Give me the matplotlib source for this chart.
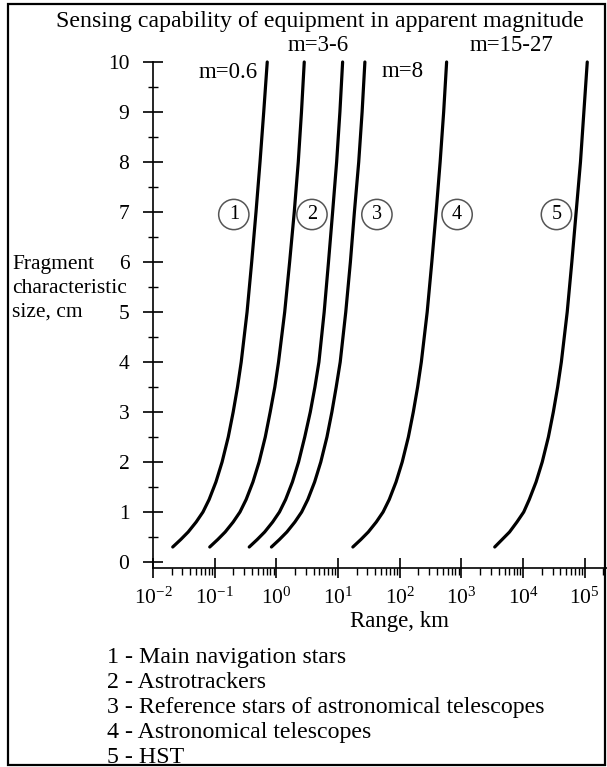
import numpy as np
import matplotlib
matplotlib.use('Agg')
import matplotlib.pyplot as plt
from matplotlib.patches import Rectangle
from matplotlib.ticker import LogLocator, FixedLocator, NullFormatter

plt.rcParams['font.family'] = ['Liberation Serif', 'DejaVu Serif']
plt.rcParams['mathtext.fontset'] = 'custom'
plt.rcParams['mathtext.rm'] = 'Liberation Serif'
plt.rcParams['mathtext.it'] = 'Liberation Serif'

# fragment size, cm (common to all curves)
size_cm = [0.3, 0.45, 0.6, 0.8, 1.0, 1.25, 1.6, 2.0, 2.5, 3.0, 3.5, 4.0,
           5.0, 6.0, 7.0, 8.0, 9.0, 10.0]

# log10 of range in km
log_range_1 = [-1.68, -1.55, -1.43, -1.30, -1.19, -1.09, -0.98, -0.88, -0.78, -0.70,
               -0.63, -0.57, -0.475, -0.40, -0.33, -0.265, -0.205, -0.148]
log_range_2a = [-1.08, -0.95, -0.83, -0.70, -0.59, -0.49, -0.38, -0.28, -0.18, -0.10,
                -0.025, 0.035, 0.135, 0.215, 0.29, 0.355, 0.407, 0.452]
log_range_2b = [-0.44, -0.31, -0.19, -0.06, 0.05, 0.15, 0.26, 0.36, 0.46, 0.55,
                0.625, 0.69, 0.775, 0.845, 0.912, 0.977, 1.03, 1.074]
log_range_3 = [-0.08, 0.05, 0.17, 0.30, 0.41, 0.51, 0.62, 0.72, 0.82, 0.90,
               0.97, 1.035, 1.125, 1.20, 1.265, 1.335, 1.39, 1.435]
log_range_4 = [1.24, 1.37, 1.49, 1.62, 1.73, 1.83, 1.94, 2.04, 2.14, 2.22,
               2.29, 2.35, 2.445, 2.52, 2.59, 2.655, 2.712, 2.76]
log_range_5 = [3.54, 3.66, 3.78, 3.90, 4.01, 4.10, 4.21, 4.31, 4.41, 4.49,
               4.56, 4.62, 4.715, 4.79, 4.86, 4.93, 4.985, 5.04]

curves = [log_range_1, log_range_2a, log_range_2b, log_range_3, log_range_4, log_range_5]

# circled curve numbers (log10 range, size)
circle_labels = ['1', '2', '3', '4', '5']
circle_logx = [-0.69, 0.577, 1.63, 2.93, 4.54]
circle_y = 6.95

# magnitude notes (log10 range, size)
mag_text = ['m=0.6', 'm=3-6', 'm=8', 'm=15-27']
mag_logx = [-0.785, 0.674, 2.051, 3.818]
mag_y = [9.78, 10.32, 9.8, 10.32]

ylabel_lines = ['Fragment', 'characteristic', 'size, cm']

legend_lines = ['1 - Main navigation stars',
                '2 - Astrotrackers',
                '3 - Reference stars of astronomical telescopes',
                '4 - Astronomical telescopes',
                '5 - HST']

W, H = 607, 767
fig = plt.figure(figsize=(W / 100, H / 100), dpi=100)
ax = fig.add_axes([153 / W, 1 - 568 / H, 1 - 153 / W, (568 - 62) / H])

for lx in curves:
    ax.plot(10 ** np.array(lx), size_cm, color='black', lw=2.3, clip_on=False,
            solid_capstyle='round', solid_joinstyle='round', zorder=2)

ax.set_xscale('log')
ax.set_xlim(10 ** -2, 10 ** 5.36)
ax.set_ylim(-0.12, 10)

for s in ['top', 'right']:
    ax.spines[s].set_visible(False)
ax.spines['left'].set_linewidth(1.2)
ax.spines['bottom'].set_linewidth(1.2)

ax.xaxis.set_major_locator(FixedLocator([10.0 ** k for k in range(-2, 6)]))
ax.set_xticklabels([r'$10^{%d}$' % k for k in range(-2, 6)])
ax.xaxis.set_minor_locator(LogLocator(base=10, subs=np.arange(2, 10), numticks=20))
ax.xaxis.set_minor_formatter(NullFormatter())
ax.tick_params(axis='x', which='major', direction='inout', length=14, width=1.2,
               labelsize=15.5, pad=7)
ax.tick_params(axis='x', which='minor', direction='out', length=5, width=1)

ax.set_yticks(range(0, 11))
ax.set_yticks(np.arange(0.5, 10, 1.0), minor=True)
ax.tick_params(axis='y', which='major', direction='inout', length=14, width=1.2,
               labelsize=15.5, pad=10)
ax.tick_params(axis='y', which='minor', direction='inout', length=7, width=1)

for lab, lx in zip(circle_labels, circle_logx):
    ax.text(10 ** lx, circle_y, lab, ha='center', va='center', fontsize=14.5, zorder=1,
            bbox=dict(boxstyle='circle,pad=0.28', fc='white', ec='#555555', lw=1.1))

for t, lx, y in zip(mag_text, mag_logx, mag_y):
    ax.text(10 ** lx, y, t, ha='center', va='center', fontsize=16.5, clip_on=False)

fig.text(320 / W, 1 - 21 / H, 'Sensing capability of equipment in apparent magnitude',
         ha='center', va='center', fontsize=17.2)

for i, line in enumerate(ylabel_lines):
    fig.text(12 / W, 1 - (264 + 24 * i) / H, line, ha='left', va='center', fontsize=15.5)

fig.text(400 / W, 1 - 621 / H, 'Range, km', ha='center', va='center', fontsize=16.5)

for i, line in enumerate(legend_lines):
    fig.text(107 / W, 1 - (658 + 24.8 * i) / H, line, ha='left', va='center',
             fontsize=17.2)

fig.patches.append(Rectangle((8 / W, 2 / H), (W - 10) / W, (H - 6) / H,
                             transform=fig.transFigure, fill=False, ec='black', lw=1.6))

fig.savefig('out.png', dpi=100)
